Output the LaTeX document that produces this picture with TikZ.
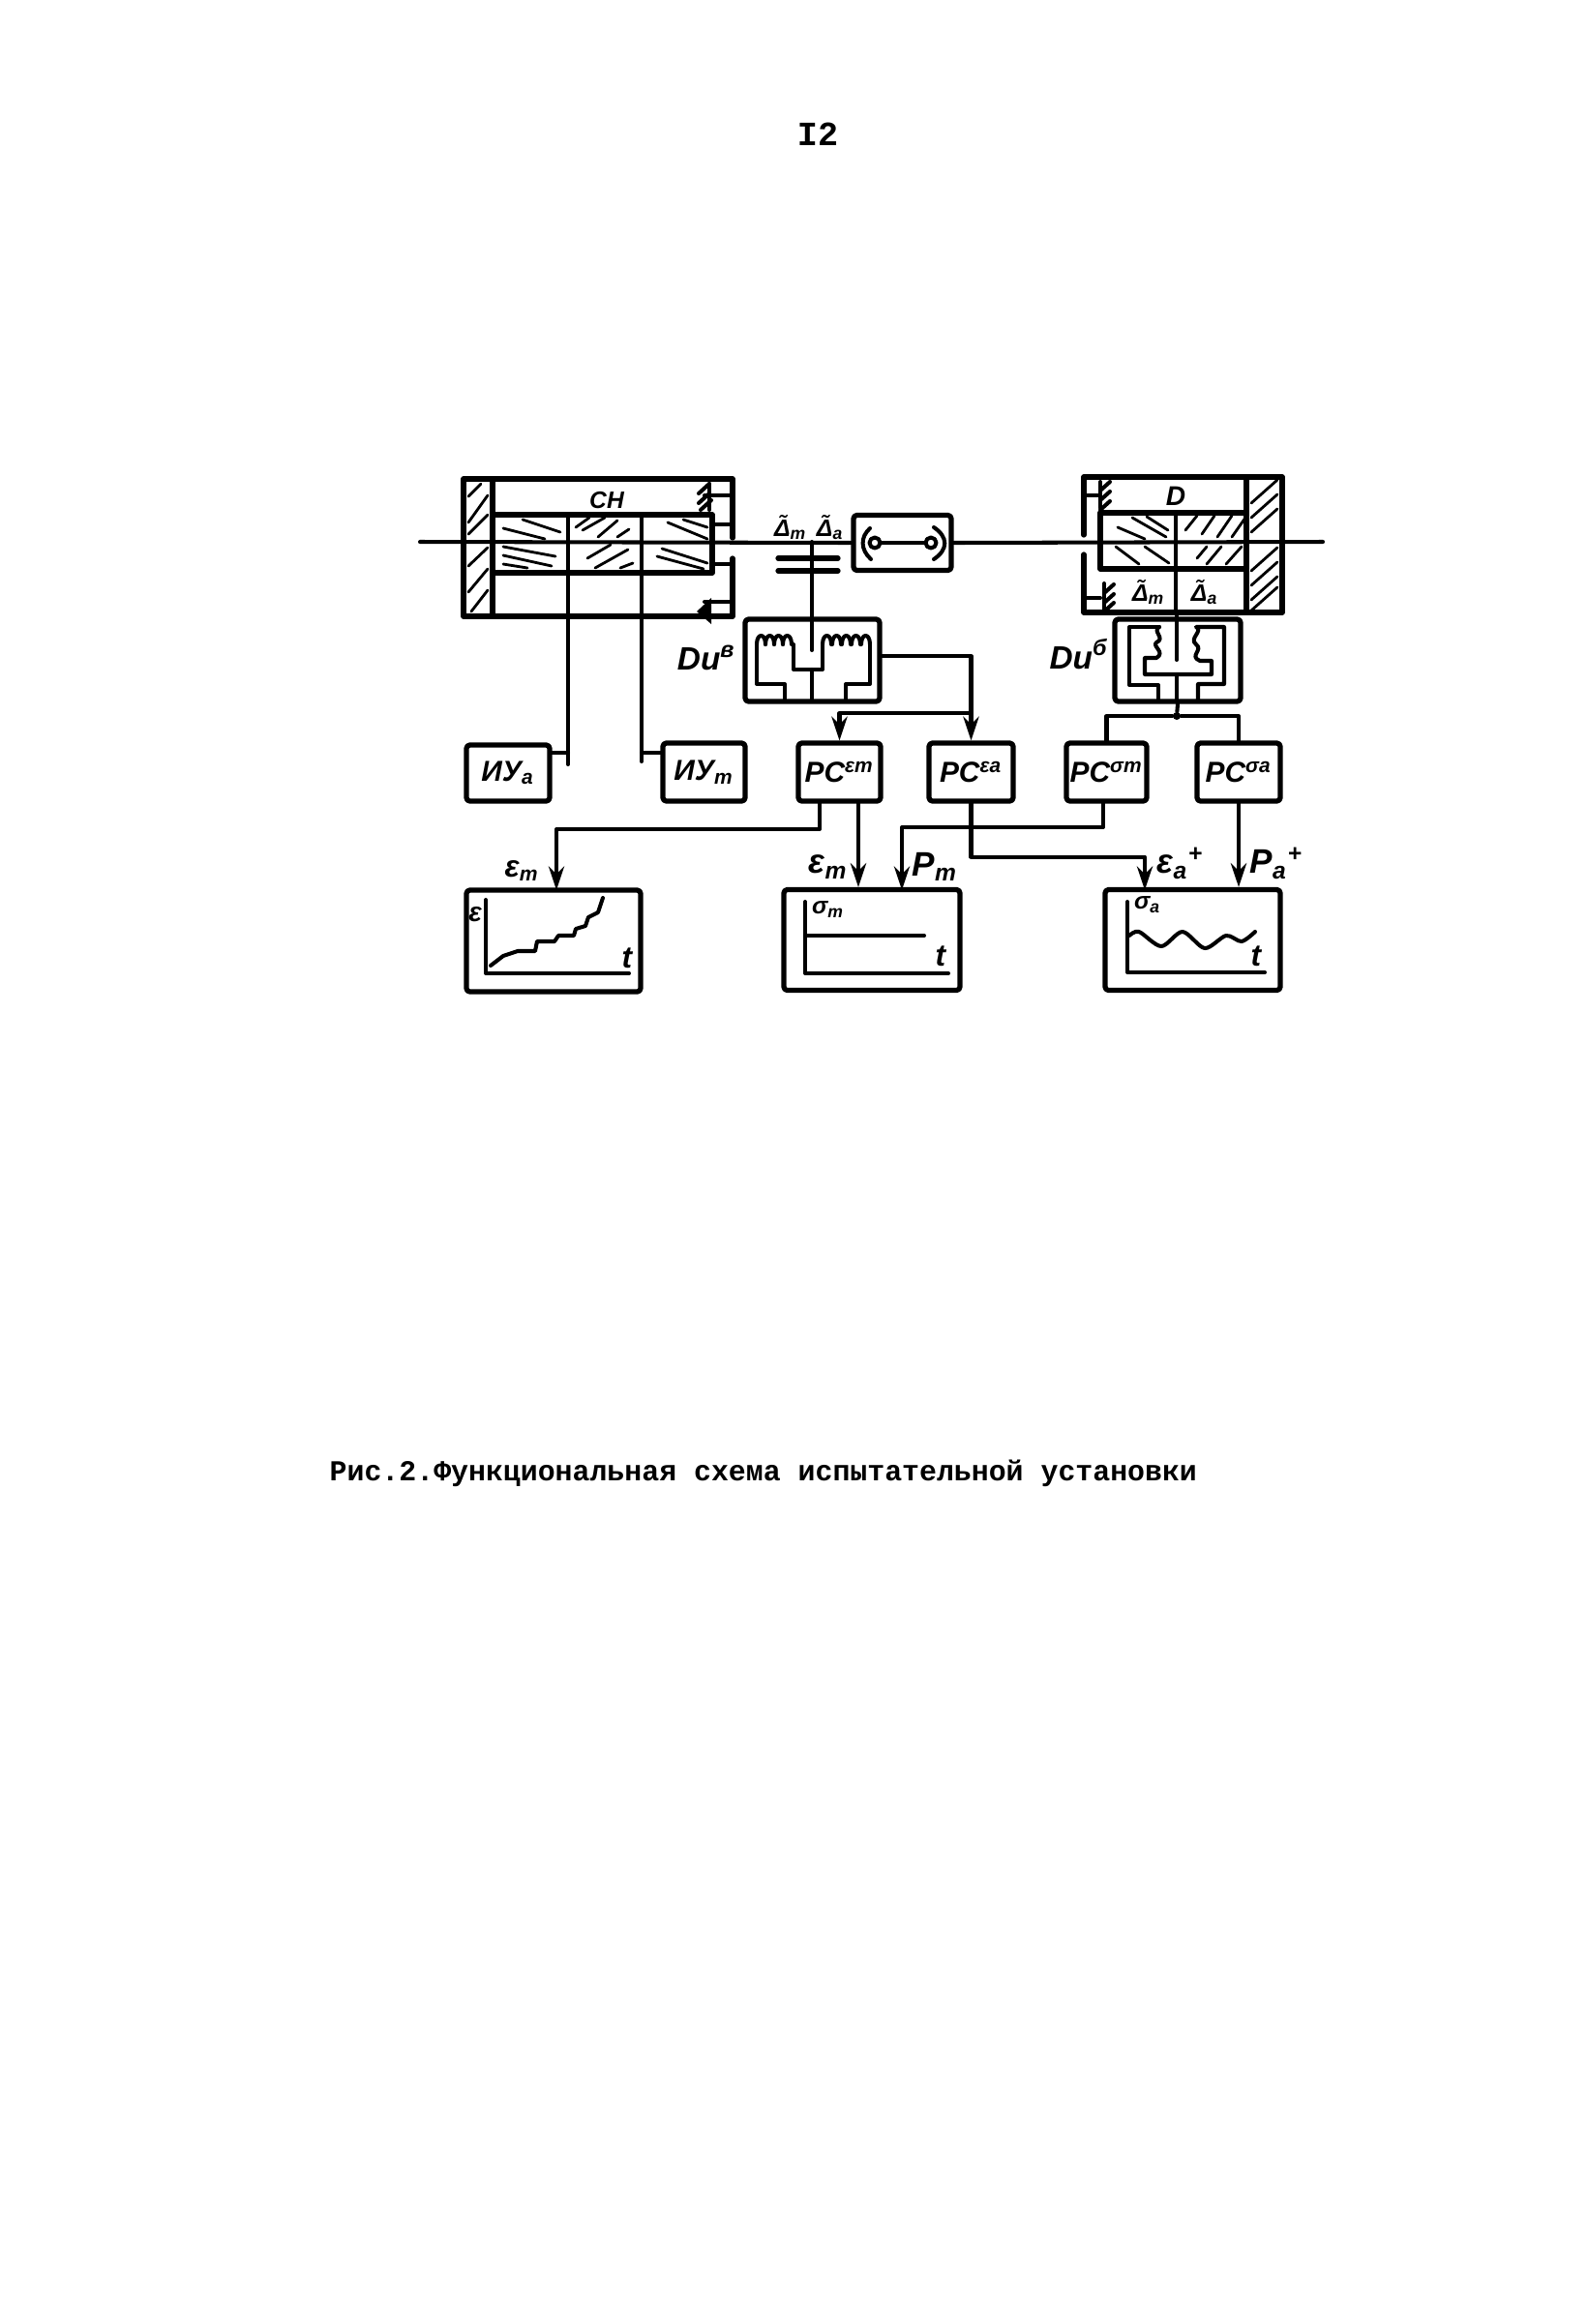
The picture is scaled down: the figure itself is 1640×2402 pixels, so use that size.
\documentclass[tikz,border=0pt]{standalone}
\usepackage{fontspec}
\setsansfont{Liberation Sans}
\setmonofont{Liberation Mono}
\usetikzlibrary{arrows.meta}
\tikzset{
  wire/.style={line width=1.15pt, line join=round, line cap=round},
  heavy/.style={line width=1.5pt, line join=round, line cap=round},
  sig/.style={wire, -{Stealth[length=7pt,width=4.6pt]}},
  hatch/.style={line width=0.8pt, line cap=round},
  handtext/.style={font=\fontsize{#1}{#1}\selectfont\sffamily\bfseries\itshape, inner sep=0pt},
  blockbox/.style={draw, heavy, rounded corners=1pt, inner sep=0pt, minimum height=6cm, handtext=8.5},
  pcbox/.style={blockbox, minimum width=8.5mm, minimum height=6mm},
  plotbox/.style={blockbox, minimum width=18.1mm, minimum height=10.4mm}
}
\begin{document}
\begin{tikzpicture}[x=0.1mm,y=-0.1mm]
\useasboundingbox (0,0) rectangle (1640,2402);
\node[font=\fontsize{10}{10}\selectfont\ttfamily\bfseries, inner sep=0pt] (pagenum) at (845,139) {I2};

% cylinder and damper bodies
\draw[heavy] (757,556) -- (757,495) -- (479,495) -- (479,637) -- (757,637) -- (757,577);
\draw[heavy] (509,495) -- (509,637);
\draw[heavy] (509,532) -- (736,532) -- (736,592) -- (509,592);
\draw[wire] (736,542) -- (757,542) (736,583) -- (757,583) (728,512) -- (757,512) (728,622) -- (757,622);
\draw[wire] (587,532) -- (587,637) (663,532) -- (663,637);
\draw[heavy] (1120,553) -- (1120,493) -- (1325,493) -- (1325,633) -- (1120,633) -- (1120,573);
\draw[heavy] (1288,493) -- (1288,633);
\draw[heavy] (1288,530) -- (1137,530) -- (1137,588) -- (1288,588);
\draw[wire] (1215,530) -- (1215,633) (1120,512) -- (1137,512) (1120,618) -- (1137,618);
\foreach \xa/\ya/\xb/\yb in {540/537/579/550,520/546/563/557,520/565/574/575,520/574/570/585,520/583/545/587,
  595/545/609/535,602/548/625/535,618/555/638/538,638/555/650/547,607/577/631/563,615/587/649/568,641/587/654/582,
  690/540/731/557,706/537/731/545,684/567/731/582,679/575/727/588,
  484/513/497/500,484/540/504/512,484/552/504/532,484/585/504/566,484/612/504/588,487/632/504/610,
  1170/535/1205/555,1185/534/1207/548,1155/545/1183/557,1153/565/1177/583,1183/565/1208/582,
  1225/548/1237/533,1242/552/1255/533,1258/555/1273/533,1273/555/1287/535,1237/577/1247/565,1247/583/1262/565,1267/583/1283/565}
  \draw[hatch] (\xa,\ya) -- (\xb,\yb);
\foreach \y in {520,535,550,590,605,620,631}
  \draw[hatch] (1293,\y) -- (1320,\y-24);
\foreach \xa/\ya in {733/500,1137/498,1141/603}
  \draw[wire] (\xa,\ya) -- (\xa,\ya+27);
\foreach \xa/\ya in {722/510,722/520,724/527}
  \draw[wire] (\xa,\ya) -- (\xa+11,\ya-10);
\foreach \xa/\ya in {1137/507,1137/517,1137/527,1141/613,1141/623,1141/632}
  \draw[wire] (\xa,\ya) -- (\xa+10,\ya-9);
\fill (720,632) -- (735,618) -- (735,645) -- cycle;

\coordinate (shaftl) at (434,560);
\coordinate (shaftr) at (1367,560);
\node[blockbox, minimum width=10.1mm, minimum height=5.7mm] (coupler) at (932.5,561) {};
\draw[wire] (shaftl) -- (coupler.west);
\draw[wire] (coupler.east) -- (shaftr);
\node[draw, wire, circle, minimum size=1.1mm, inner sep=0pt] (pivotl) at (904,561) {};
\node[draw, wire, circle, minimum size=1.1mm, inner sep=0pt] (pivotr) at (962,561) {};
\draw[wire] (pivotl) -- (pivotr);
\draw[wire] (899,546) .. controls (889,555) and (889,568) .. (900,578);
\draw[wire] (965,545) .. controls (980,555) and (980,568) .. (965,578);

\node[handtext=7] (chlabel) at (627,517) {СН};
\node[handtext=8] (dlabel) at (1215,513) {D};
\node[handtext=7] (gapm) at (817,545) {Δ̃\textsubscript{m}};
\node[handtext=7] (gapa) at (858,545) {Δ̃\textsubscript{a}};
\node[handtext=7] (gapmd) at (1187,612) {Δ̃\textsubscript{m}};
\node[handtext=7] (gapad) at (1245,612) {Δ̃\textsubscript{a}};

% gap sensor
\draw[heavy] (804,577) -- (866,577) (804,590) -- (866,590);
\node[blockbox, minimum width=13.9mm, minimum height=8.5mm] (dub) at (839.5,682.5) {};
\node[handtext=9.5, anchor=east] (dublabel) at (761,680) {Du\textsuperscript{в}};
\coordinate (dubtap) at (839,560);
\coordinate (dubend) at (839,672);
\draw[wire] (dubtap) -- (dubend);
\foreach \x in {782,791,800,809,850,860,870,880,890}
  \draw[wire] (\x,666) .. controls (\x,654) and (\x+9,654) .. (\x+9,666);
\draw[wire] (820,666) -- (820,692) -- (850,692) -- (850,666);
\draw[wire] (839,692) -- (839,725);
\draw[wire] (782,666) -- (782,707) -- (811,707) -- (811,725);
\draw[wire] (899,666) -- (899,707) -- (874,707) -- (874,725);

\node[blockbox, minimum width=13mm, minimum height=8.5mm] (dus) at (1217,682.5) {};
\node[handtext=9.5, anchor=east] (duslabel) at (1146,676) {Du\textsuperscript{б}};
\coordinate (dustop) at (1216,633);
\coordinate (dusend) at (1216,682);
\draw[wire] (dustop) -- (dusend);
\draw[wire] (1198,648) -- (1167,648) -- (1167,708) -- (1197,708) -- (1197,725);
\draw[wire] (1198,648) .. controls (1190,652) and (1205,660) .. (1195,664) .. controls (1190,668) and (1205,674) .. (1195,680) -- (1183,680) -- (1183,697) -- (1252,697) -- (1252,683) -- (1240,683) .. controls (1228,678) and (1244,672) .. (1236,666) .. controls (1228,660) and (1244,652) .. (1236,648) -- (1265,648) -- (1265,707) -- (1238,707) -- (1238,725);
\draw[wire] (1216,697) -- (1216,725);

% recording channels
\node[blockbox, minimum width=8.6mm, minimum height=5.8mm] (uya) at (525,799) {ИУ\textsubscript{a}};
\node[blockbox, minimum width=8.5mm, minimum height=6mm] (uym) at (727.5,798) {ИУ\textsubscript{m}};
\node[pcbox] (pcem) at (867.5,798) {PC\textsuperscript{εm}};
\node[pcbox, minimum width=8.7mm] (pcea) at (1003.5,798) {PC\textsuperscript{εa}};
\node[pcbox, minimum width=8.3mm] (pcsm) at (1143.5,798) {PC\textsuperscript{σm}};
\node[pcbox, minimum width=8.6mm] (pcsa) at (1280,798) {PC\textsuperscript{σa}};
\node[plotbox, minimum width=18mm, minimum height=10.5mm] (plotem) at (572,972.5) {};
\node[plotbox, minimum width=18.2mm] (plotsm) at (901,971.5) {};
\node[plotbox] (plotsa) at (1232.5,971.5) {};

\coordinate (tapa) at (587,778);
\coordinate (tapm) at (663,778);
\draw[wire] (587,637) -- (587,790);
\draw[wire] (663,637) -- (663,787);
\draw[wire] (tapa -| uya.east) -- (tapa);
\draw[wire] (tapm) -- (tapm -| uym.west);

\coordinate (dubout) at (909,678);
\coordinate (busb) at (pcea.north |- 0,737);
\draw[wire] (dubout) -| (busb);
\draw[sig] (busb) -- (pcea.north);
\draw[sig] (busb) -| (pcem.north);
\node[circle, fill, minimum size=0.8mm, inner sep=0pt] (busd) at (1216,740) {};
\draw[wire] (dus.south) -- (busd);
\draw[wire] (pcsm.north) |- (busd) -| (pcsa.north);

\coordinate (emout) at (847,828);
\coordinate (emin) at (575,920);
\coordinate (emtap) at (887,828);
\coordinate (smout) at (1140,828);
\coordinate (pmin) at (932,920);
\coordinate (eain) at (1183,920);
\draw[sig] (emout) -- +(0,29) -| (emin);
\draw[sig] (emtap) -- (emtap |- plotsm.north);
\draw[sig] (smout) -- +(0,27) -| (pmin);
\draw[sig] (pcea.south) -- +(0,55) -| (eain);
\draw[sig] (pcsa.south) -- (pcsa.south |- plotsa.north);

\node[handtext=9, anchor=east] (lblema) at (558,900) {ε\textsubscript{m}};
\node[handtext=10, anchor=east] (lblemb) at (877,896) {ε\textsubscript{m}};
\node[handtext=10, anchor=west] (lblpm) at (942,896) {P\textsubscript{m}};
\node[handtext=10, anchor=west] (lblea) at (1195,892) {ε\textsubscript{a}\textsuperscript{+}};
\node[handtext=10, anchor=west] (lblpa) at (1291,892) {P\textsubscript{a}\textsuperscript{+}};

% plots
\draw[wire] (502,930) -- (502,1006) -- (650,1006);
\draw[wire] (507,998) -- (520,988) -- (535,983) -- (553,983) -- (555,973) -- (573,973) -- (577,967) -- (593,967) -- (595,960) -- (605,957) -- (608,948) -- (618,943) -- (623,928);
\node[handtext=8] (axea) at (491,945) {ε};
\node[handtext=9] (axta) at (648,990) {t};
\draw[wire] (832,932) -- (832,1006) -- (980,1006);
\draw[wire] (832,967) -- (955,967);
\node[handtext=7] (axsm) at (856,940) {σ\textsubscript{m}};
\node[handtext=9] (axtb) at (972,988) {t};
\draw[wire] (1165,932) -- (1165,1005) -- (1307,1005);
\draw[wire] plot[smooth] coordinates {(1167,967) (1177,963) (1200,978) (1222,963) (1245,980) (1267,967) (1283,973) (1297,963)};
\node[handtext=7] (axsa) at (1186,935) {σ\textsubscript{a}};
\node[handtext=9] (axtc) at (1298,988) {t};

\node[font=\fontsize{8.5}{8.5}\selectfont\ttfamily\bfseries, inner sep=0pt, anchor=west] (caption) at (340,1523) {Рис.2.Функциональная схема испытательной установки};
\end{tikzpicture}
\end{document}
